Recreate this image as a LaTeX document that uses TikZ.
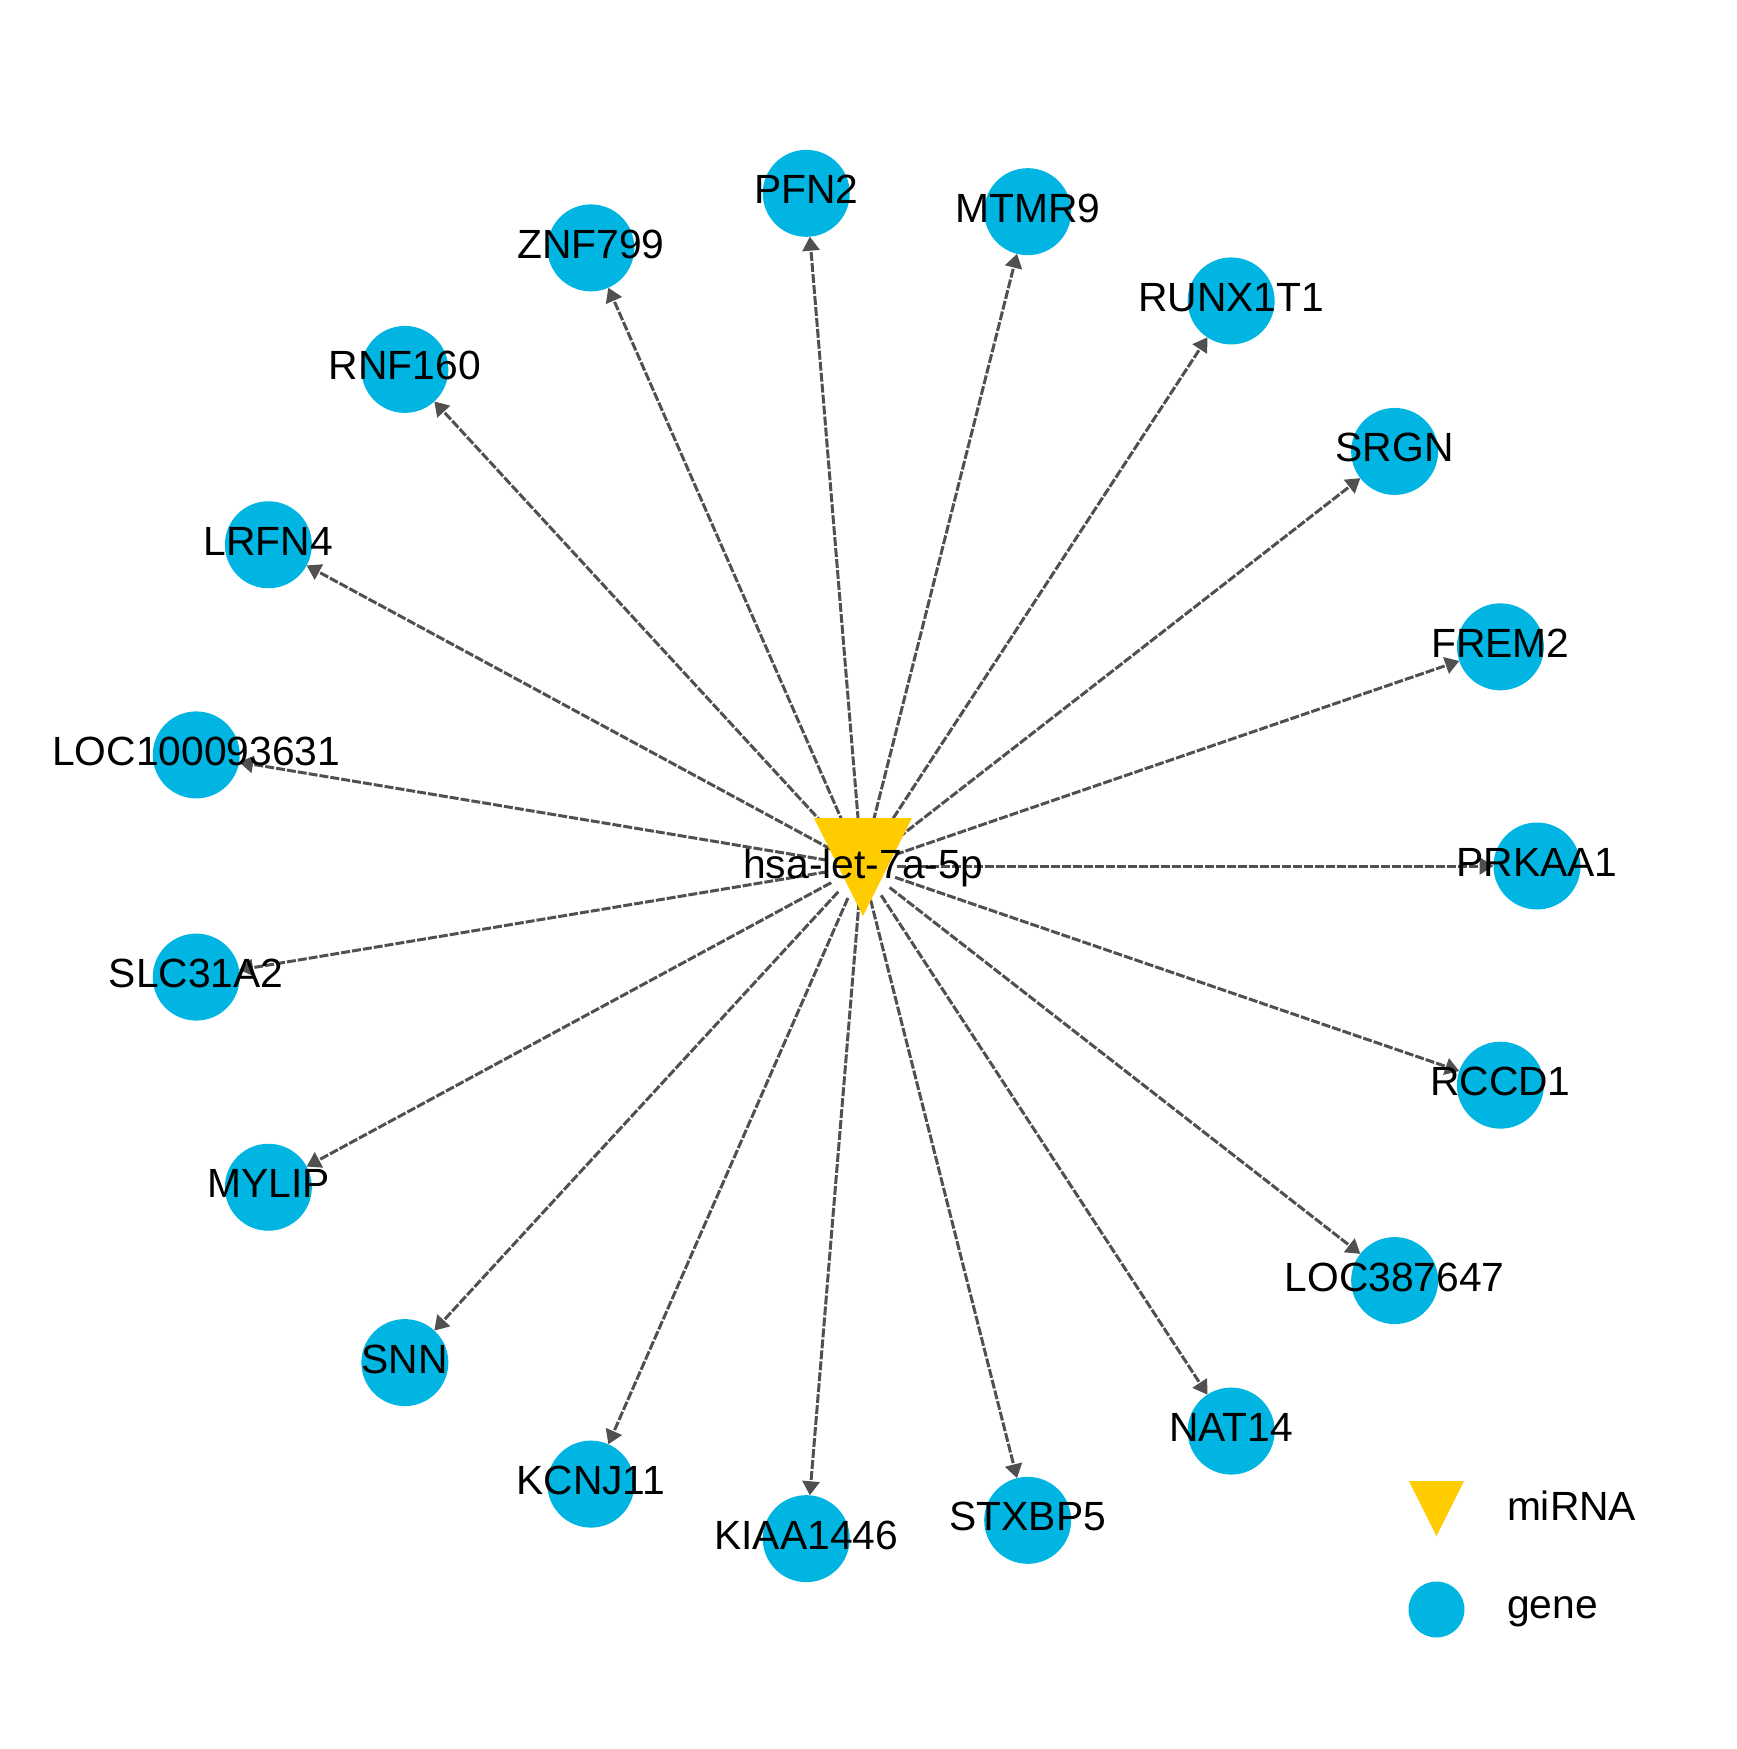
\documentclass[tikz,border=0pt]{standalone}
\usepackage{fontspec}
\setmainfont{Liberation Sans}
\usetikzlibrary{shapes.geometric,arrows.meta}
\definecolor{genecol}{RGB}{0,181,226}
\definecolor{mircol}{RGB}{255,204,0}
\definecolor{edgecol}{RGB}{80,80,80}
\tikzset{
  gene/.style={circle, fill=genecol, minimum size=87pt, inner sep=0pt, outer sep=0pt},
  legendgene/.style={circle, fill=genecol, minimum size=56pt, inner sep=0pt, outer sep=0pt},
  mirna/.style={isosceles triangle, isosceles triangle stretches, shape border rotate=270,
    fill=mircol, inner sep=0pt, outer sep=0pt, minimum width=#1, minimum height=#1},
  lbl/.style={inner sep=0pt, outer sep=0pt, text=black, font=\fontsize{40.8}{49}\selectfont},
  edge/.style={draw=edgecol, line width=3pt, dash pattern=on 9pt off 2pt,
    shorten <=35pt, -{Triangle[length=14pt,width=17pt]}},
}
\begin{document}
\begin{tikzpicture}[x=1pt,y=1pt]
\useasboundingbox (-862,-883) rectangle (875,866);
\coordinate (mc) at (0,0);
% gene circles
\foreach \n [count=\k from 0] in {PRKAA1,FREM2,SRGN,RUNX1T1,MTMR9,PFN2,ZNF799,RNF160,LRFN4,LOC100093631,SLC31A2,MYLIP,SNN,KCNJ11,KIAA1446,STXBP5,NAT14,LOC387647,RCCD1}{
  \node[gene] (g\k) at ({\k*360/19}:675) {};
}
% edges
\foreach \k in {0,...,18}{
  \draw[edge] (mc) -- (g\k);
}
% miRNA node
\node[mirna=98pt, anchor=apex] (mi) at (1,-50) {};
% labels
\foreach \n [count=\k from 0] in {PRKAA1,FREM2,SRGN,RUNX1T1,MTMR9,PFN2,ZNF799,RNF160,LRFN4,LOC100093631,SLC31A2,MYLIP,SNN,KCNJ11,KIAA1446,STXBP5,NAT14,LOC387647,RCCD1}{
  \node[lbl, anchor=base] (l\k) at ([yshift=-10.5pt]g\k.center) {\n};
}
\node[lbl, anchor=base] (ml) at (1.5,-12) {hsa-let-7a-5p};
% legend
\node[mirna=55pt, anchor=apex] (legm) at (574.5,-670) {};
\node[lbl, anchor=base west] (legmt) at (645,-654) {miRNA};
\node[legendgene] (legg) at (574.5,-743.5) {};
\node[lbl, anchor=base west] (leggt) at (645,-752) {gene};
\end{tikzpicture}
\end{document}
